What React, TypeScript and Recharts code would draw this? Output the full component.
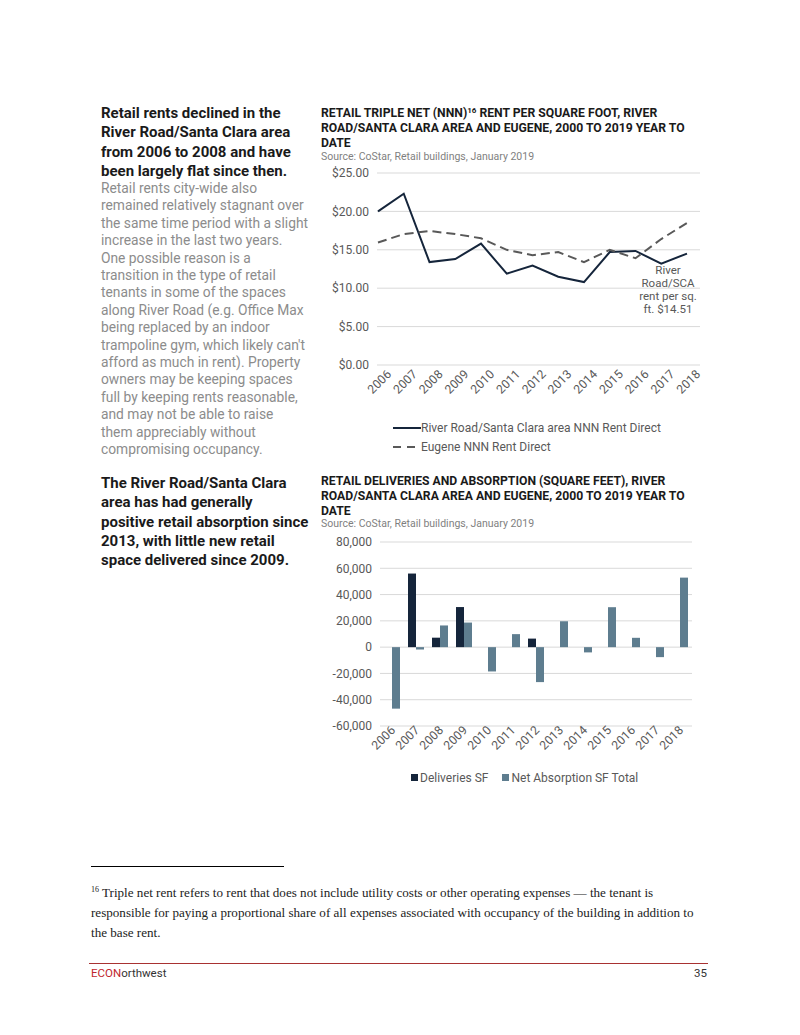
import React from 'react';
import {
  LineChart,
  Line,
  BarChart,
  Bar,
  XAxis,
  YAxis,
  CartesianGrid,
  Legend,
} from 'recharts';

// Data
const years = ['2006', '2007', '2008', '2009', '2010', '2011', '2012', '2013', '2014', '2015', '2016', '2017', '2018'];
const riverRoadRent = [20.0, 22.3, 13.4, 13.8, 15.8, 11.9, 12.95, 11.5, 10.8, 14.7, 14.85, 13.2, 14.51];
const eugeneRent = [15.95, 17.05, 17.45, 17.05, 16.5, 15.0, 14.3, 14.7, 13.4, 15.0, 13.9, 16.4, 18.5];
const rentTicks = [0, 5, 10, 15, 20, 25];

const deliveries = [0, 56000, 7200, 30500, 0, 0, 6500, 0, 0, 0, 0, 0, 0];
const netAbsorption = [-46800, -1800, 16500, 18700, -18500, 9900, -26600, 19700, -4000, 30400, 7100, -7600, 52900];
const sfTicks = [-60000, -40000, -20000, 0, 20000, 40000, 60000, 80000];

const NAVY = '#15253b';
const GREY_DASH = '#595959';
const SLATE = '#5e7d8f';
const AXIS_TEXT = '#595959';
const FONT = 'Roboto, "Liberation Sans", sans-serif';

const rentData = years.map((year, i) => ({
  year,
  riverRoad: riverRoadRent[i],
  eugene: eugeneRent[i],
}));

const sfData = years.map((year, i) => ({
  year,
  deliveries: deliveries[i],
  absorption: netAbsorption[i],
}));

const YearTick = ({ x, y, payload, dx = 0, dy = 0 }: any) => (
  <g transform={`translate(${x + dx},${y + dy})`}>
    <text x={0} y={0} textAnchor="end" transform="rotate(-45)" fill={AXIS_TEXT} fontSize={12.2} fontFamily={FONT}>
      {payload.value}
    </text>
  </g>
);

const RentLegend = () => (
  <div style={{ height: 55, paddingLeft: 73, paddingTop: 13, boxSizing: 'border-box', fontSize: 12, color: AXIS_TEXT, fontFamily: FONT }}>
    <div style={{ display: 'flex', alignItems: 'center', height: 19 }}>
      <svg width={28} height={6}>
        <line x1={0} y1={3} x2={28} y2={3} stroke={NAVY} strokeWidth={2} />
      </svg>
      <span>River Road/Santa Clara area NNN Rent Direct</span>
    </div>
    <div style={{ display: 'flex', alignItems: 'center', height: 19 }}>
      <svg width={28} height={6}>
        <line x1={0} y1={3} x2={28} y2={3} stroke={GREY_DASH} strokeWidth={2} strokeDasharray="8 6" />
      </svg>
      <span>Eugene NNN Rent Direct</span>
    </div>
  </div>
);

const SfLegend = () => (
  <div style={{ height: 30, paddingLeft: 91, paddingTop: 3, boxSizing: 'border-box', fontSize: 12, color: AXIS_TEXT, fontFamily: FONT, display: 'flex', alignItems: 'center' }}>
    <span style={{ display: 'inline-block', width: 7, height: 7, background: NAVY, marginRight: 2 }} />
    <span style={{ marginRight: 14 }}>Deliveries SF</span>
    <span style={{ display: 'inline-block', width: 7, height: 7, background: SLATE, marginRight: 2 }} />
    <span>Net Absorption SF Total</span>
  </div>
);

const abs = (left: number, top: number, extra: React.CSSProperties = {}): React.CSSProperties => ({
  position: 'absolute',
  left,
  top,
  ...extra,
});

export default function App() {
  return (
    <div style={{ position: 'absolute', left: 0, top: 0, width: 800, height: 1035, background: '#fff', fontFamily: FONT, overflow: 'hidden' }}>
      {/* left column, first section */}
      <div style={abs(101, 104, { fontSize: 15, fontWeight: 700, lineHeight: '19.3px', color: '#1a1a1a' })}>
        Retail rents declined in the<br />
        River Road/Santa Clara area<br />
        from 2006 to 2008 and have<br />
        been largely flat since then.
      </div>
      <div style={abs(101, 180, { fontSize: 13.8, lineHeight: '17.4px', color: '#8c8c8c' })}>
        Retail rents city-wide also<br />
        remained relatively stagnant over<br />
        the same time period with a slight<br />
        increase in the last two years.<br />
        One possible reason is a<br />
        transition in the type of retail<br />
        tenants in some of the spaces<br />
        along River Road (e.g. Office Max<br />
        being replaced by an indoor<br />
        trampoline gym, which likely can't<br />
        afford as much in rent). Property<br />
        owners may be keeping spaces<br />
        full by keeping rents reasonable,<br />
        and may not be able to raise<br />
        them appreciably without<br />
        compromising occupancy.
      </div>

      {/* chart 1 title */}
      <div style={abs(321, 106, { fontSize: 12.2, fontWeight: 700, lineHeight: '15px', color: '#1a1a1a' })}>
        RETAIL TRIPLE NET (NNN)<sup style={{ fontSize: 8, verticalAlign: 'top', lineHeight: '10px' }}>16</sup> RENT PER SQUARE FOOT, RIVER<br />
        ROAD/SANTA CLARA AREA AND EUGENE, 2000 TO 2019 YEAR TO<br />
        DATE
      </div>
      <div style={abs(321, 150, { fontSize: 10.5, color: '#7f7f7f' })}>Source: CoStar, Retail buildings, January 2019</div>

      <div style={abs(320, 160)}>
        <LineChart width={390} height={300} data={rentData} margin={{ top: 13, right: 10, left: 0, bottom: 0 }}>
          <CartesianGrid vertical={false} stroke="#d9d9d9" />
          <XAxis
            dataKey="year"
            axisLine={false}
            tickLine={false}
            interval={0}
            height={40}
            padding={{ left: 1, right: 13 }}
            tick={<YearTick dx={14} dy={2} />}
          />
          <YAxis
            domain={[0, 25]}
            ticks={rentTicks}
            axisLine={false}
            tickLine={false}
            width={57}
            tick={{ fill: AXIS_TEXT, fontSize: 12, fontFamily: FONT }}
            tickFormatter={(v: number) => `$${v.toFixed(2)}`}
          />
          <Legend verticalAlign="bottom" align="left" content={<RentLegend />} />
          <Line type="linear" dataKey="riverRoad" stroke={NAVY} strokeWidth={2} dot={false} isAnimationActive={false} />
          <Line type="linear" dataKey="eugene" stroke={GREY_DASH} strokeWidth={2} strokeDasharray="9 5" dot={false} isAnimationActive={false} />
        </LineChart>
      </div>

      {/* annotation */}
      <div style={abs(628, 264, { width: 80, textAlign: 'center', fontSize: 11.5, lineHeight: '13px', color: AXIS_TEXT })}>
        River<br />
        Road/SCA<br />
        rent per sq.<br />
        ft. $14.51
      </div>

      {/* left column, second section */}
      <div style={abs(101, 474, { fontSize: 15, fontWeight: 700, lineHeight: '19.3px', color: '#1a1a1a' })}>
        The River Road/Santa Clara<br />
        area has had generally<br />
        positive retail absorption since<br />
        2013, with little new retail<br />
        space delivered since 2009.
      </div>

      {/* chart 2 title */}
      <div style={abs(321, 474, { fontSize: 12.2, fontWeight: 700, lineHeight: '15px', color: '#1a1a1a' })}>
        RETAIL DELIVERIES AND ABSORPTION (SQUARE FEET), RIVER<br />
        ROAD/SANTA CLARA AREA AND EUGENE, 2000 TO 2019 YEAR TO<br />
        DATE
      </div>
      <div style={abs(321, 517, { fontSize: 10.5, color: '#7f7f7f' })}>Source: CoStar, Retail buildings, January 2019</div>

      <div style={abs(320, 530)}>
        <BarChart width={390} height={261} data={sfData} margin={{ top: 12, right: 18, left: 0, bottom: 0 }} barSize={8} barGap={0}>
          <CartesianGrid vertical={false} stroke="#d9d9d9" />
          <XAxis
            dataKey="year"
            axisLine={false}
            tickLine={false}
            interval={0}
            height={35}
            tick={<YearTick dx={4} dy={-3} />}
          />
          <YAxis
            domain={[-60000, 80000]}
            ticks={sfTicks}
            axisLine={false}
            tickLine={false}
            width={60}
            tick={{ fill: AXIS_TEXT, fontSize: 12, fontFamily: FONT }}
            tickFormatter={(v: number) => v.toLocaleString('en-US')}
          />
          <Legend verticalAlign="bottom" align="left" content={<SfLegend />} />
          <Bar dataKey="deliveries" fill={NAVY} isAnimationActive={false} />
          <Bar dataKey="absorption" fill={SLATE} isAnimationActive={false} />
        </BarChart>
      </div>

      {/* footnote */}
      <div style={abs(91, 866, { width: 193, height: 1, background: '#000' })} />
      <div style={abs(91, 883, { width: 660, fontFamily: '"Liberation Serif", "DejaVu Serif", serif', fontSize: 13.1, lineHeight: '20px', color: '#222' })}>
        <sup style={{ fontSize: 8, lineHeight: '10px' }}>16</sup> Triple net rent refers to rent that does not include utility costs or other operating expenses — the tenant is<br />
        responsible for paying a proportional share of all expenses associated with occupancy of the building in addition to<br />
        the base rent.
      </div>

      {/* footer */}
      <div style={abs(89, 963, { width: 619, height: 1, background: '#a83232' })} />
      <div style={abs(91, 966, { fontSize: 11.5, color: '#333' })}>
        <span style={{ color: '#c0262d' }}>ECON</span>orthwest
      </div>
      <div style={abs(680, 966, { width: 27, textAlign: 'right', fontSize: 11.5, color: '#333' })}>35</div>
    </div>
  );
}
